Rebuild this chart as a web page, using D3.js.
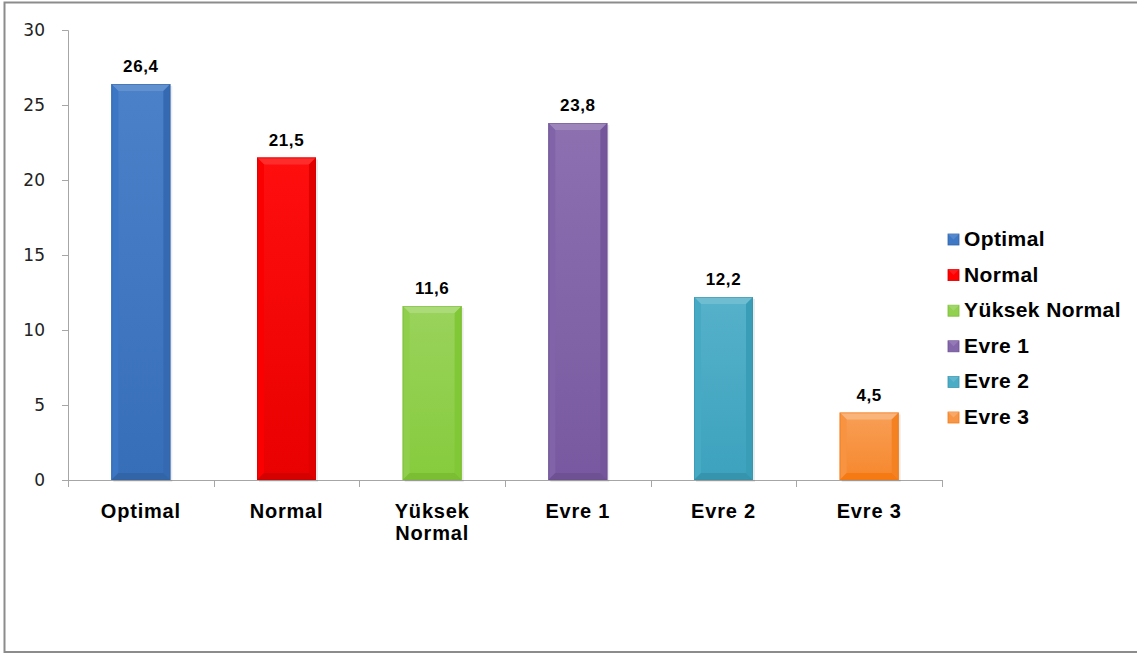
<!DOCTYPE html>
<html>
<head>
<meta charset="utf-8">
<script src="https://cdn.jsdelivr.net/npm/d3@7"></script>
<style>
	body { margin: 0; background: #fff; }
	text { font-family: 'Liberation Sans', Arial, sans-serif; }
</style>
</head>
<body>
<div id="chart_div"></div>
<script>
var categories = ['Optimal', 'Normal', 'Yüksek Normal', 'Evre 1', 'Evre 2', 'Evre 3'];
var values = [26.4, 21.5, 11.6, 23.8, 12.2, 4.5];
var bar_colours = ['#3f79c6', '#ff0000', '#92d050', '#8466ab', '#4bacc6', '#f79646'];
var y_ticks = [0, 5, 10, 15, 20, 25, 30];

var width = 1137;
var height = 655;

var svg = d3.select('#chart_div')
	.append('svg')
	.attr('width', width)
	.attr('height', height);

// outer frame
svg.append('rect')
	.attr('x', 4.5)
	.attr('y', 2.5)
	.attr('width', width + 10)
	.attr('height', 649.5)
	.attr('fill', 'none')
	.attr('stroke', '#8c8c8c')
	.attr('stroke-width', 2);

var plot = { left: 68, right: 942, top: 30, bottom: 480 };

var x = d3.scaleBand()
	.domain(categories)
	.range([plot.left, plot.right])
	.paddingInner(0.595)
	.paddingOuter(0.2975);

var y = d3.scaleLinear()
	.domain([0, 30])
	.range([plot.bottom, plot.top]);

var defs = svg.append('defs');

categories.forEach(function (c, i) {
	var base = d3.hsl(bar_colours[i]);
	var grad = defs.append('linearGradient')
		.attr('id', 'bar_grad_' + i)
		.attr('x1', '0%').attr('y1', '0%')
		.attr('x2', '0%').attr('y2', '100%');
	grad.append('stop').attr('offset', '0%').attr('stop-color', base.brighter(0.15));
	grad.append('stop').attr('offset', '100%').attr('stop-color', base.darker(0.25));
});

// y axis
var y_axis = svg.append('g')
	.attr('transform', 'translate(' + plot.left + ',0)')
	.call(d3.axisLeft(y).tickValues(y_ticks).tickSize(6).tickPadding(17).tickFormat(d3.format('d')));
y_axis.select('.domain').attr('stroke', '#a6a6a6').attr('d', 'M-6,' + (plot.top + 0.5) + 'H0.5V' + plot.bottom);
y_axis.selectAll('.tick line').attr('stroke', '#a6a6a6');
y_axis.selectAll('.tick text')
	.attr('fill', '#222')
	.attr('font-size', 17)
	.style('font-family', "'DejaVu Sans', Verdana, sans-serif");

// x axis line with category separators
var x_axis = svg.append('g');
x_axis.append('line')
	.attr('x1', plot.left).attr('x2', plot.right)
	.attr('y1', plot.bottom + 0.5).attr('y2', plot.bottom + 0.5)
	.attr('stroke', '#a6a6a6');
var seps = d3.range(categories.length + 1).map(function (k) {
	return plot.left + k * x.step();
});
x_axis.selectAll('.sep')
	.data(seps)
	.enter()
	.append('line')
	.attr('x1', (d) => Math.round(d) + 0.5)
	.attr('x2', (d) => Math.round(d) + 0.5)
	.attr('y1', plot.bottom)
	.attr('y2', plot.bottom + 7)
	.attr('stroke', '#a6a6a6');

// bars with bevel
var bev = 7;
var bars = svg.selectAll('.bar')
	.data(values)
	.enter()
	.append('g')
	.attr('class', 'bar');

bars.each(function (v, i) {
	var g = d3.select(this);
	var x0 = x(categories[i]);
	var w = x.bandwidth();
	var y0 = y(v);
	var h = y(0) - y0;
	var base = d3.hsl(bar_colours[i]);
	var b = Math.min(bev, h / 2);

	g.append('rect')
		.attr('x', x0 + 2).attr('y', y0 + 2)
		.attr('width', w).attr('height', h)
		.attr('fill', '#000').attr('opacity', 0.08);
	g.append('rect')
		.attr('x', x0).attr('y', y0)
		.attr('width', w).attr('height', h)
		.attr('fill', 'url(#bar_grad_' + i + ')');
	// top bevel
	g.append('polygon')
		.attr('points', [[x0, y0], [x0 + w, y0], [x0 + w - b, y0 + b], [x0 + b, y0 + b]].join(' '))
		.attr('fill', base.brighter(0.45));
	// left bevel
	g.append('polygon')
		.attr('points', [[x0, y0], [x0 + b, y0 + b], [x0 + b, y0 + h - b], [x0, y0 + h]].join(' '))
		.attr('fill', base.darker(0.05));
	// right bevel
	g.append('polygon')
		.attr('points', [[x0 + w, y0], [x0 + w - b, y0 + b], [x0 + w - b, y0 + h - b], [x0 + w, y0 + h]].join(' '))
		.attr('fill', base.darker(0.35));
	// bottom bevel
	g.append('polygon')
		.attr('points', [[x0, y0 + h], [x0 + b, y0 + h - b], [x0 + w - b, y0 + h - b], [x0 + w, y0 + h]].join(' '))
		.attr('fill', base.darker(0.5));
	g.append('rect')
		.attr('x', x0 + 0.5).attr('y', y0 + 0.5)
		.attr('width', w - 1).attr('height', h - 1)
		.attr('fill', 'none')
		.attr('stroke', base.darker(0.6))
		.attr('stroke-opacity', 0.5);
});

// value labels
svg.selectAll('.value_label')
	.data(values)
	.enter()
	.append('text')
	.attr('class', 'value_label')
	.attr('x', (d, i) => x(categories[i]) + x.bandwidth() / 2)
	.attr('y', (d) => y(d) - 12)
	.attr('text-anchor', 'middle')
	.attr('font-size', 17)
	.attr('letter-spacing', 0.6)
	.attr('font-weight', 'bold')
	.attr('fill', '#000')
	.text((d) => d3.format('.1f')(d).replace('.', ','));

// category labels (wrap two-word labels)
var cat_labels = svg.selectAll('.cat_label')
	.data(categories)
	.enter()
	.append('text')
	.attr('class', 'cat_label')
	.attr('x', (d) => x(d) + x.bandwidth() / 2)
	.attr('y', 518)
	.attr('text-anchor', 'middle')
	.attr('font-size', 20)
	.attr('letter-spacing', 0.8)
	.attr('font-weight', 'bold')
	.attr('fill', '#000');
cat_labels.each(function (d) {
	var words = d.split(' ');
	var t = d3.select(this);
	var lines = words.length > 1 && !/\d/.test(d) ? words : [d];
	lines.forEach(function (w, k) {
		t.append('tspan')
			.attr('x', t.attr('x'))
			.attr('dy', k === 0 ? 0 : 22)
			.text(w);
	});
});

// legend
var legend = svg.selectAll('.legend_item')
	.data(categories)
	.enter()
	.append('g')
	.attr('class', 'legend_item')
	.attr('transform', (d, i) => 'translate(948,' + (239 + i * 35.6) + ')');

legend.append('rect')
	.attr('x', 0).attr('y', -5)
	.attr('width', 11).attr('height', 11)
	.attr('fill', (d, i) => bar_colours[i])
	.attr('stroke', (d, i) => d3.hsl(bar_colours[i]).darker(0.5))
	.attr('stroke-width', 0.8);
legend.append('polygon')
	.attr('points', '0,-5 11,-5 5.5,0.5')
	.attr('fill', (d, i) => d3.hsl(bar_colours[i]).brighter(0.4))
	.attr('opacity', 0.7);

legend.append('text')
	.attr('x', 16)
	.attr('y', 7)
	.attr('font-size', 21)
	.attr('letter-spacing', 0.4)
	.attr('font-weight', 'bold')
	.attr('fill', '#000')
	.text((d) => d);
</script>
</body>
</html>
